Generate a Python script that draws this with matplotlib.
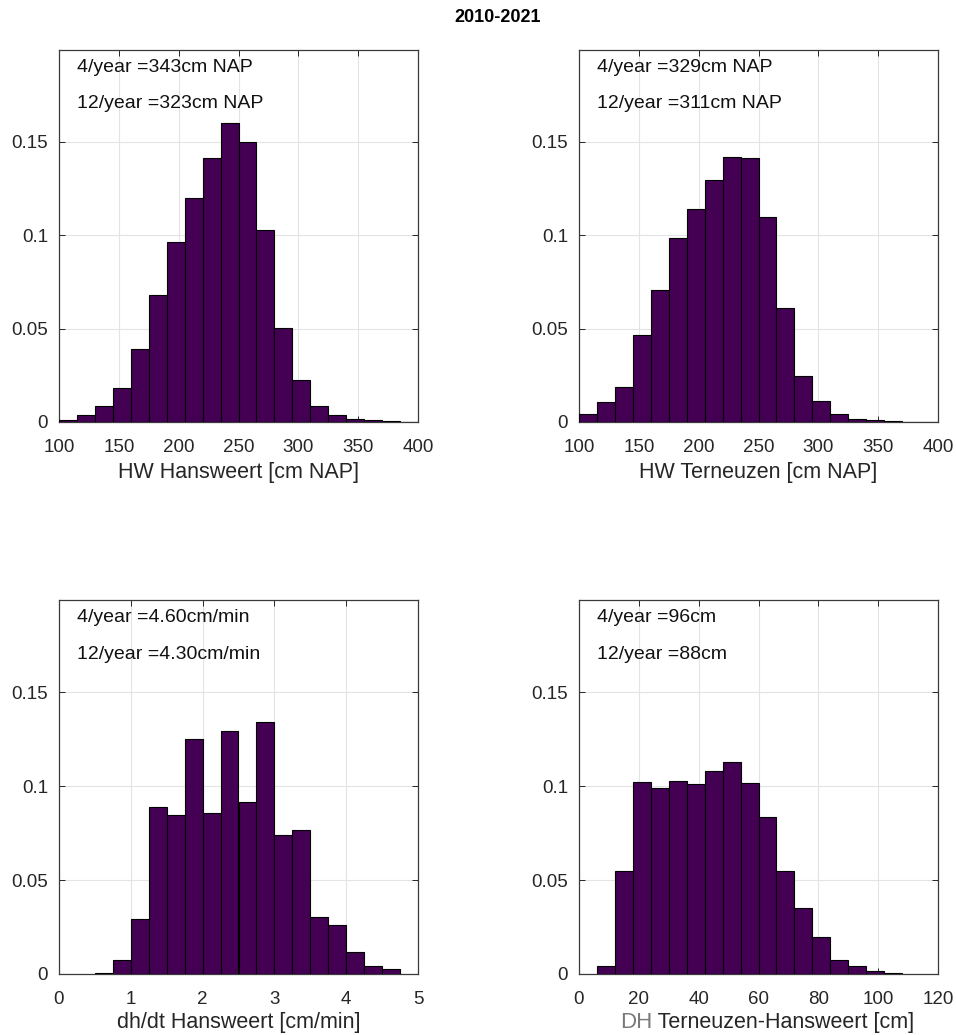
import matplotlib
matplotlib.use("Agg")
import matplotlib.pyplot as plt
import numpy as np

plt.rcParams['font.family'] = ['Liberation Sans', 'DejaVu Sans']

# bin edges and relative frequencies
hw_edges = np.arange(100, 401, 15)
hw_hansweert = [0.0012, 0.0037, 0.0084, 0.0182, 0.0388, 0.0679, 0.0964, 0.1200,
                0.1414, 0.1600, 0.1500, 0.1027, 0.0504, 0.0225, 0.0088, 0.0037,
                0.0014, 0.0010, 0.0004, 0.0002]
hw_terneuzen = [0.0041, 0.0105, 0.0189, 0.0468, 0.0707, 0.0982, 0.1141, 0.1296,
                0.1418, 0.1411, 0.1096, 0.0609, 0.0246, 0.0111, 0.0043, 0.0016,
                0.0011, 0.0004, 0.0002, 0.0002]

dhdt_edges = np.arange(0.5, 4.76, 0.25)
dhdt_hansweert = [0.0004, 0.0077, 0.0295, 0.0888, 0.0848, 0.1252, 0.0855, 0.1291,
                  0.0913, 0.1343, 0.0738, 0.0768, 0.0302, 0.0259, 0.0116, 0.0041,
                  0.0027]

dh_edges = np.arange(6, 109, 6)
dh_tern_hans = [0.0041, 0.0546, 0.1020, 0.0989, 0.1027, 0.1009, 0.1080, 0.1127,
                0.1018, 0.0836, 0.0548, 0.0350, 0.0196, 0.0077, 0.0041, 0.0014,
                0.0007]

labels_4 = ["4/year =343cm NAP", "4/year =329cm NAP", "4/year =4.60cm/min", "4/year =96cm"]
labels_12 = ["12/year =323cm NAP", "12/year =311cm NAP", "12/year =4.30cm/min", "12/year =88cm"]
xlabels = ["HW Hansweert [cm NAP]", "HW Terneuzen [cm NAP]", "dh/dt Hansweert [cm/min]", None]
xlims = [(100, 400), (100, 400), (0, 5), (0, 120)]
xticks = [np.arange(100, 401, 50), np.arange(100, 401, 50), np.arange(0, 6, 1), np.arange(0, 121, 20)]

series = [(hw_edges, hw_hansweert), (hw_edges, hw_terneuzen),
          (dhdt_edges, dhdt_hansweert), (dh_edges, dh_tern_hans)]

W, H = 956, 1035
fig = plt.figure(figsize=(W / 100, H / 100), dpi=100)

# axes boxes in pixels: left, top, right, bottom
boxes = [(59, 50, 418, 422), (579, 50, 938, 422), (59, 600, 418, 974), (579, 600, 938, 974)]
label_y = [-0.137, -0.137, -0.131, -0.131]

dark = '#262626'
for i, (l, t, r, b) in enumerate(boxes):
    ax = fig.add_axes([l / W, 1 - b / H, (r - l) / W, (b - t) / H])
    edges, vals = series[i]
    ax.bar(edges[:-1], vals, width=np.diff(edges), align='edge',
           color='#440154', edgecolor='black', linewidth=0.8, zorder=3)
    ax.set_xlim(*xlims[i])
    ax.set_ylim(0, 0.199)
    ax.set_xticks(xticks[i])
    ax.set_yticks([0, 0.05, 0.1, 0.15])
    ax.set_yticklabels(['0', '0.05', '0.1', '0.15'])
    ax.grid(True, color='#e3e3e3', linewidth=0.8, zorder=0)
    ax.tick_params(direction='in', length=4, width=0.7, top=True, right=True,
                   labelsize=13.5, colors=dark)
    ax.tick_params(axis='x', pad=12)
    ax.tick_params(axis='y', pad=8)
    for s in ax.spines.values():
        s.set_color('#3a3a3a')
        s.set_linewidth(0.9)
    ax.text(0.05, 0.953, labels_4[i], transform=ax.transAxes, fontsize=14,
            va='center', ha='left', color='#111111')
    ax.text(0.05, 0.855, labels_12[i], transform=ax.transAxes, fontsize=14,
            va='center', ha='left', color='#111111')
    if xlabels[i] is not None:
        ax.set_xlabel(xlabels[i], fontsize=15.5, color=dark, va='center')
        ax.xaxis.set_label_coords(0.5, label_y[i])
    else:
        ax.text(0.203, label_y[i], "DH", transform=ax.transAxes, fontsize=16,
                ha='right', va='center', color='#7a7a7a')
        ax.text(0.203, label_y[i], " Terneuzen-Hansweert [cm]", transform=ax.transAxes,
                fontsize=15.5, ha='left', va='center', color=dark)

fig.text(498 / W, 1 - 18 / H, "2010-2021", ha='center', va='center',
         fontsize=13, fontweight='bold', color='black')

fig.savefig("out.png", dpi=100)
